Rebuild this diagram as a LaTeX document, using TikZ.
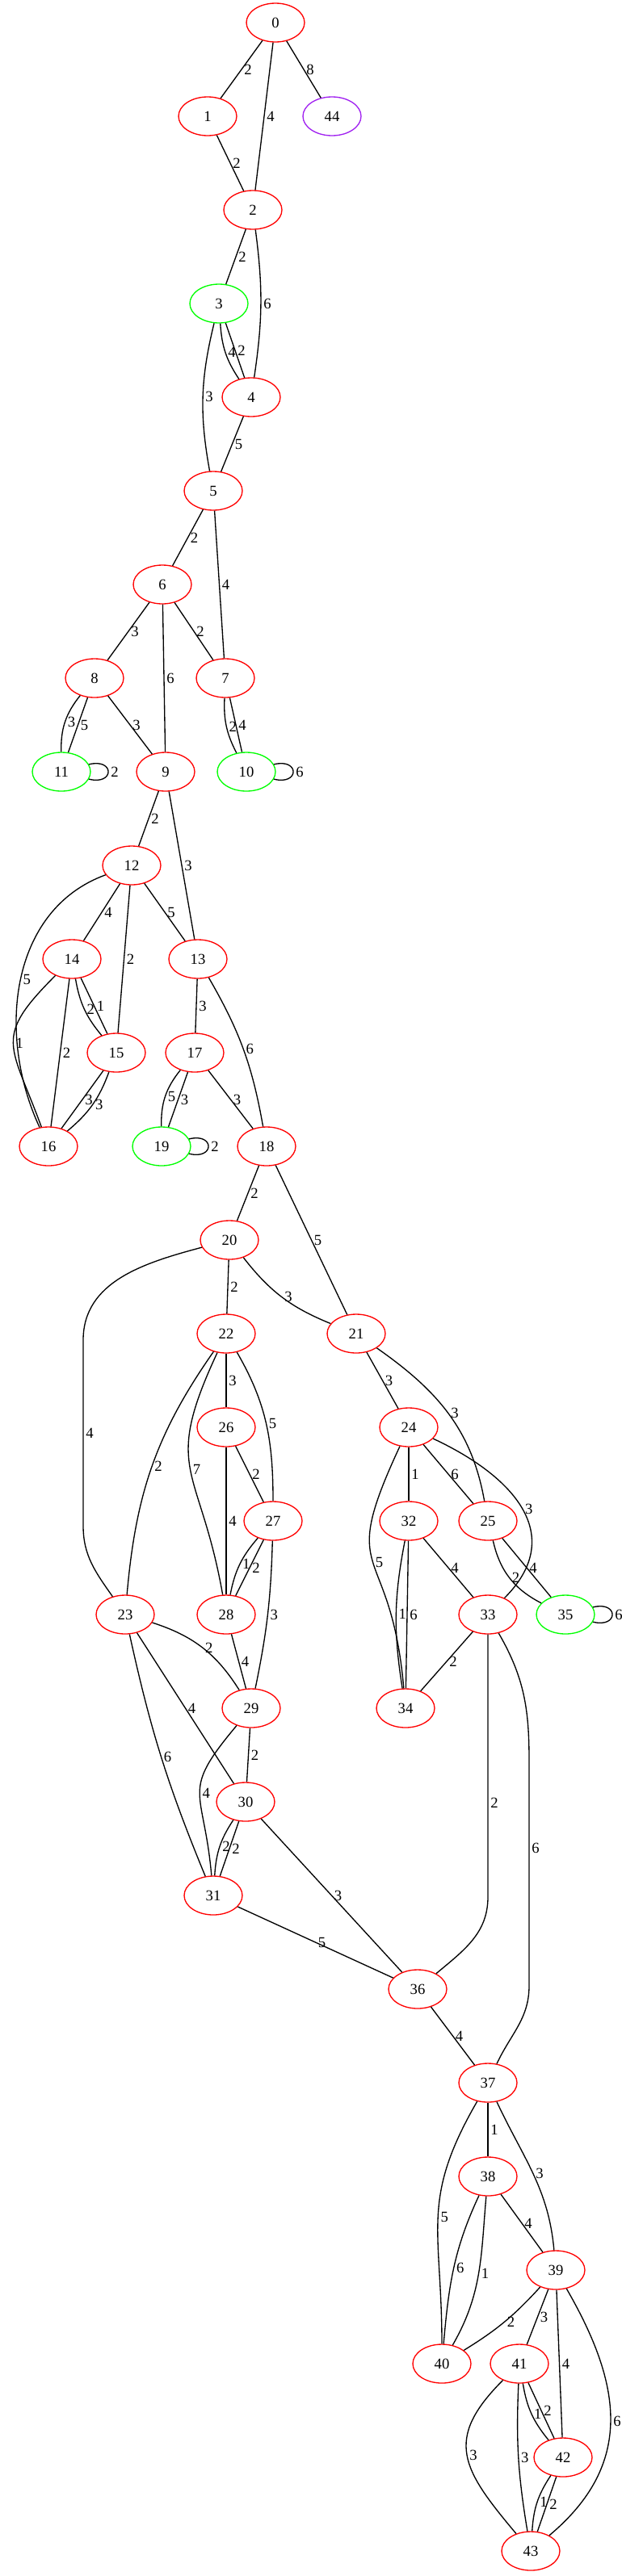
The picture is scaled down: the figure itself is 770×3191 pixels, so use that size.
\documentclass[tikz,border=0pt]{standalone}
\usepackage{fontspec}
\setmainfont{Liberation Serif}
\usepackage{tikz}
\usetikzlibrary{shapes.geometric}
\definecolor{gvred}{RGB}{255,0,0}
\definecolor{gvgreen}{RGB}{0,255,0}
\definecolor{gvpurple}{RGB}{160,32,240}

\begin{document}
\begin{tikzpicture}[x=0.75pt, y=0.75pt, font=\fontsize{14}{16}\selectfont,
  vtx/.style={ellipse, draw=#1, line width=1pt, minimum width=54pt, minimum height=36pt, inner sep=0pt},
  vtx/.default=gvred,
  wline/.style={line width=1pt},
  wlabel/.style={anchor=west, inner sep=0pt, inner xsep=2pt}]

\useasboundingbox (0,0) rectangle (770,-3191);

%nodes%
\foreach \n/\x/\y in {0/341/28, 1/257/144, 2/313/260, 4/311/492, 5/264/608, 6/201/724,
  8/117/840, 7/279/840, 9/205/956, 12/163/1072, 14/89/1188, 13/245/1188, 15/144/1304,
  17/241/1304, 16/60/1420, 18/330/1420, 20/284/1536, 22/280/1652, 21/441/1652,
  26/280/1768, 24/506/1768, 27/338/1884, 32/506/1884, 25/604/1884, 23/155/2000,
  28/280/2000, 33/604/2000, 29/311/2116, 34/502/2116, 30/304/2232, 31/264/2348,
  36/517/2464, 37/604/2580, 38/604/2696, 39/688/2812, 40/547/2928, 41/643/2928,
  42/697/3044, 43/657/3160}
  \node[vtx] (n\n) at (\x,-\y) {\n};
\foreach \n/\x/\y in {3/271/376, 11/76/956, 10/305/956, 19/200/1420, 35/700/2000}
  \node[vtx=gvgreen] (n\n) at (\x,-\y) {\n};
\node[vtx=gvpurple] (n44) at (411,-144) {44};

%straight edges%
\foreach \a/\b/\w in {0/1/2, 0/2/4, 0/44/8, 1/2/2, 2/3/2, 3/4/2, 4/5/5, 5/6/2, 5/7/4,
  6/8/3, 6/9/6, 6/7/2, 8/11/5, 8/9/3, 7/10/4, 9/12/2, 9/13/3, 12/14/4, 12/15/2,
  12/13/5, 14/16/2, 14/15/1, 13/17/3, 15/16/3, 17/19/3, 17/18/3, 18/20/2, 18/21/5,
  20/22/2, 22/26/3, 21/24/3, 24/32/1, 24/25/6, 26/28/4, 26/27/2, 27/28/2, 32/34/6,
  32/33/4, 25/35/4, 28/29/4, 23/30/4, 33/34/2, 29/30/2, 30/31/2, 30/36/3, 31/36/5,
  36/37/4, 37/38/1, 38/39/4, 39/41/3, 39/42/4, 41/42/2, 42/43/2}
  \draw[wline] (n\a) -- node[wlabel] {\w} (n\b);

%bent edges%
\draw[wline] (n2) to[bend left=8] node[wlabel]{6} (n4);
\draw[wline] (n3) to[bend right=15] node[wlabel]{4} (n4);
\draw[wline] (n3) to[bend right=12] node[wlabel]{3} (n5);
\draw[wline] (n8) to[bend right=20] node[wlabel]{3} (n11);
\draw[wline] (n7) to[bend right=15] node[wlabel]{2} (n10);
\draw[wline] (n12) to[out=200,in=115] node[wlabel]{5} (n16);
\draw[wline] (n14) to[out=225,in=110,looseness=1.5] node[wlabel]{1} (n16);
\draw[wline] (n14) to[bend right=15] node[wlabel]{2} (n15);
\draw[wline] (n15) to[bend left=15] node[wlabel]{3} (n16);
\draw[wline] (n17) to[bend right=20] node[wlabel]{5} (n19);
\draw[wline] (n13) to[bend left=10] node[wlabel]{6} (n18);
\draw[wline] (n20) to[out=195,in=90] (103,-1660) -- node[wlabel]{4} (103,-1890) to[out=-90,in=125] (n23);
\draw[wline] (n20) to[bend right=15] node[wlabel]{3} (n21);
\draw[wline] (n22) to[out=235,in=85] node[wlabel]{2} (n23);
\draw[wline] (n22) to[out=245,in=100,looseness=1.4] node[wlabel]{7} (n28);
\draw[wline] (n22) to[out=-60,in=90] node[wlabel]{5} (n27);
\draw[wline] (n21) to[out=-35,in=100] node[wlabel]{3} (n25);
\draw[wline] (n24) to[out=245,in=95,looseness=1.6] node[wlabel]{5} (n34);
\draw[wline] (n24) to[out=-25,in=45,looseness=1.3] node[wlabel]{3} (n33);
\draw[wline] (n27) to[bend right=15] node[wlabel]{1} (n28);
\draw[wline] (n27) to[bend left=5] node[wlabel]{3} (n29);
\draw[wline] (n32) to[bend right=10] node[wlabel]{1} (n34);
\draw[wline] (n25) to[bend right=25] node[wlabel]{2} (n35);
\draw[wline] (n23) to[bend left=20] node[wlabel]{2} (n29);
\draw[wline] (n23) to[bend right=5] node[wlabel]{6} (n31);
\draw[wline] (n33) -- node[wlabel,pos=0.64]{2} (604,-2350) to[out=-90,in=40] (n36);
\draw[wline] (n33) to[out=-60,in=90] (655,-2180) -- node[wlabel,pos=0.39]{6} (655,-2460) to[out=-90,in=65] (n37);
\draw[wline] (n29) to[out=230,in=95,looseness=1.5] node[wlabel]{4} (n31);
\draw[wline] (n30) to[bend right=15] node[wlabel]{2} (n31);
\draw[wline] (n37) to[out=240,in=90,looseness=1.2] node[wlabel]{5} (n40);
\draw[wline] (n37) to[out=-65,in=95] node[wlabel]{3} (n39);
\draw[wline] (n38) to[out=-115,in=85] node[wlabel]{6} (n40);
\draw[wline] (n38) to[out=-95,in=60] node[wlabel]{1} (n40);
\draw[wline] (n39) to[bend left=8] node[wlabel]{2} (n40);
\draw[wline] (n39) to[out=-60,in=40,looseness=1.15] node[wlabel]{6} (n43);
\draw[wline] (n41) to[out=225,in=130,looseness=1.4] node[wlabel]{3} (n43);
\draw[wline] (n41) to[bend right=6] node[wlabel]{3} (n43);
\draw[wline] (n41) to[bend right=15] node[wlabel]{1} (n42);
\draw[wline] (n42) to[bend right=15] node[wlabel]{1} (n43);

%self loops%
\foreach \n/\w in {11/2, 10/6, 19/2, 35/6}
  \draw[wline] (n\n.15) .. controls +(32,8) and +(32,-8) .. node[wlabel]{\w} (n\n.-15);

\end{tikzpicture}
\end{document}
